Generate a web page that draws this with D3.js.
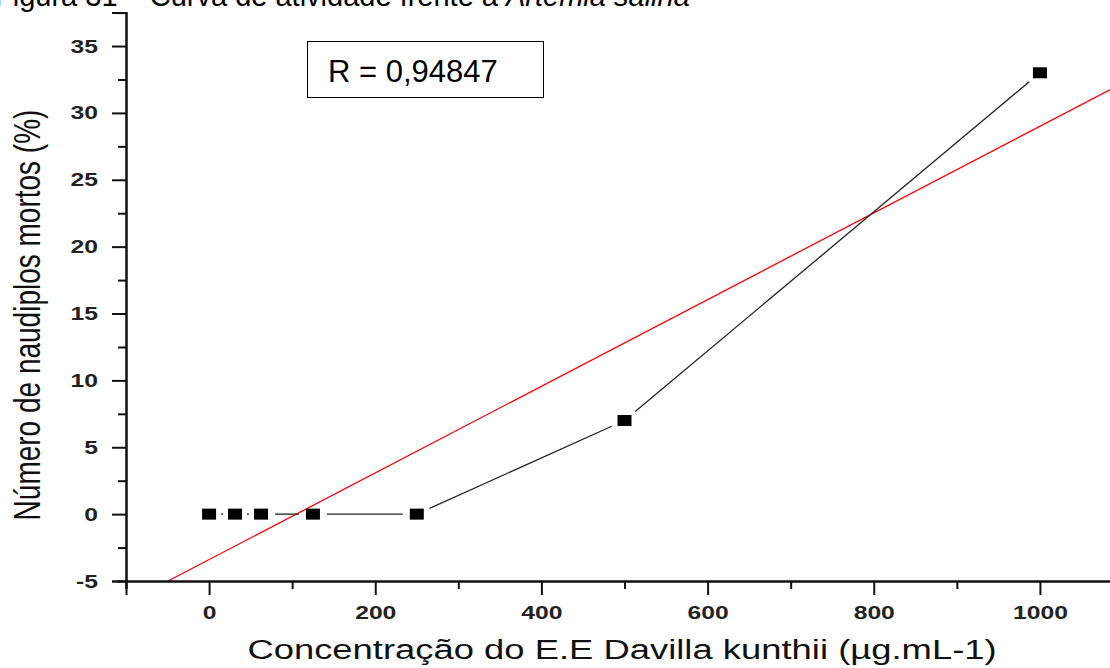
<!DOCTYPE html>
<html>
<head>
<meta charset="utf-8">
<script src="https://cdn.jsdelivr.net/npm/d3@7"></script>
<style>
  body { margin: 0; background: #fff; }
  svg { display: block; font-family: "Liberation Sans", Arial, sans-serif; }
</style>
</head>
<body>
<script>
// Concentração (µg/mL) e número de náuplios mortos (%)
const concentracao = [0, 31.25, 62.5, 125, 250, 500, 1000];
const mortos = [0, 0, 0, 0, 0, 7, 33];

const xMajorTicks = [0, 200, 400, 600, 800, 1000];
const xMinorTicks = [-100, 100, 300, 500, 700, 900, 1100];
const yMajorTicks = [-5, 0, 5, 10, 15, 20, 25, 30, 35];
const yMinorTicks = [-2.5, 2.5, 7.5, 12.5, 17.5, 22.5, 27.5, 32.5, 37.5];

const rLabel = "R = 0,94847";
const xTitle = "Concentração do E.E Davilla kunthii (µg.mL-1)";
const yTitle = "Número de naudiplos mortos (%)";

const width = 1110;
const height = 668;

const svg = d3.select("body").append("svg")
  .attr("width", width)
  .attr("height", height);

// scales
const x = d3.scaleLinear().domain([-100, 1100]).range([126, 1123]);
const y = d3.scaleLinear().domain([-5, 37.5]).range([581, 12.6]);

// caption, cut off at the top of the picture
svg.append("text")
  .attr("x", -5)
  .attr("y", 6)
  .style("font-size", "29px")
  .attr("fill", "#000")
  .text("Figura 31 – Curva de atividade frente a ")
  .append("tspan")
  .style("font-style", "italic")
  .text("Artemia salina");

// linear fit (least squares)
const mx = d3.mean(concentracao), my = d3.mean(mortos);
const slope = d3.sum(concentracao, (d, i) => (d - mx) * (mortos[i] - my)) /
  d3.sum(concentracao, d => (d - mx) ** 2);
const intercept = my - slope * mx;
const xStart = (y.domain()[0] - intercept) / slope;

svg.append("line")
  .attr("x1", x(xStart))
  .attr("y1", y(xStart * slope + intercept))
  .attr("x2", x(1100))
  .attr("y2", y(1100 * slope + intercept))
  .attr("stroke", "#ff0000")
  .attr("stroke-width", 1.3);

// black connecting line, with gaps around the markers
const pts = concentracao.map((c, i) => [x(c), y(mortos[i])]);
const gap = 14;
const segs = d3.pairs(pts).map(([a, b]) => {
  const dx = b[0] - a[0], dy = b[1] - a[1];
  const len = Math.hypot(dx, dy);
  let s = gap;
  if (len - 2 * s < 2) s = len / 2 - 1;
  const ux = dx / len, uy = dy / len;
  return [a[0] + ux * s, a[1] + uy * s, b[0] - ux * s, b[1] - uy * s];
});

svg.append("g")
  .selectAll("line")
  .data(segs)
  .join("line")
  .attr("x1", d => d[0])
  .attr("y1", d => d[1])
  .attr("x2", d => d[2])
  .attr("y2", d => d[3])
  .attr("stroke", "#222")
  .attr("stroke-width", 1.3);

// markers
svg.append("g")
  .selectAll("rect")
  .data(pts)
  .join("rect")
  .attr("x", d => d[0] - 7)
  .attr("y", d => d[1] - 5.5)
  .attr("width", 14)
  .attr("height", 11)
  .attr("fill", "#000");

// axes
const axisColor = "#111";
const stretch = 1.3;

const xMinor = svg.append("g")
  .attr("transform", `translate(0,${y(-5)})`)
  .call(d3.axisBottom(x).tickValues(xMinorTicks).tickSize(8).tickFormat(""));
const xMajor = svg.append("g")
  .attr("transform", `translate(0,${y(-5)})`)
  .call(d3.axisBottom(x).tickValues(xMajorTicks).tickSize(14).tickFormat(d => String(d)));
xMajor.selectAll("text")
  .attr("y", 38)
  .attr("dy", null)
  .attr("transform", `scale(${stretch},1)`)
  .style("font-size", "19px")
  .style("font-weight", "bold")
  .attr("fill", "#222");

const yMinor = svg.append("g")
  .attr("transform", `translate(${x(-100)},0)`)
  .call(d3.axisLeft(y).tickValues(yMinorTicks).tickSize(8).tickFormat(""));
const yMajor = svg.append("g")
  .attr("transform", `translate(${x(-100)},0)`)
  .call(d3.axisLeft(y).tickValues(yMajorTicks).tickSize(14).tickFormat(d => String(d)));
yMajor.selectAll("text")
  .attr("x", -28 / stretch)
  .attr("transform", `scale(${stretch},1)`)
  .style("font-size", "19px")
  .style("font-weight", "bold")
  .attr("fill", "#222");

[xMinor, xMajor, yMinor, yMajor].forEach(g => {
  g.selectAll("path.domain").attr("stroke", axisColor).attr("stroke-width", 2);
  g.selectAll(".tick line").attr("stroke", axisColor).attr("stroke-width", 2);
  g.attr("font-family", null).attr("font-size", null);
});

// axis titles
svg.append("text")
  .attr("transform", `translate(622,659) scale(${stretch},1)`)
  .attr("text-anchor", "middle")
  .style("font-size", "28px")
  .attr("fill", "#111")
  .text(xTitle);

svg.append("text")
  .attr("transform", `translate(40,315) scale(${stretch},1) rotate(-90)`)
  .attr("text-anchor", "middle")
  .style("font-size", "28px")
  .attr("fill", "#111")
  .text(yTitle);

// R box
svg.append("rect")
  .attr("x", 307.5)
  .attr("y", 41.5)
  .attr("width", 236)
  .attr("height", 56)
  .attr("fill", "#fff")
  .attr("stroke", "#000")
  .attr("stroke-width", 1);

svg.append("text")
  .attr("x", 328)
  .attr("y", 82)
  .style("font-size", "31px")
  .attr("fill", "#000")
  .text(rLabel);
</script>
</body>
</html>
